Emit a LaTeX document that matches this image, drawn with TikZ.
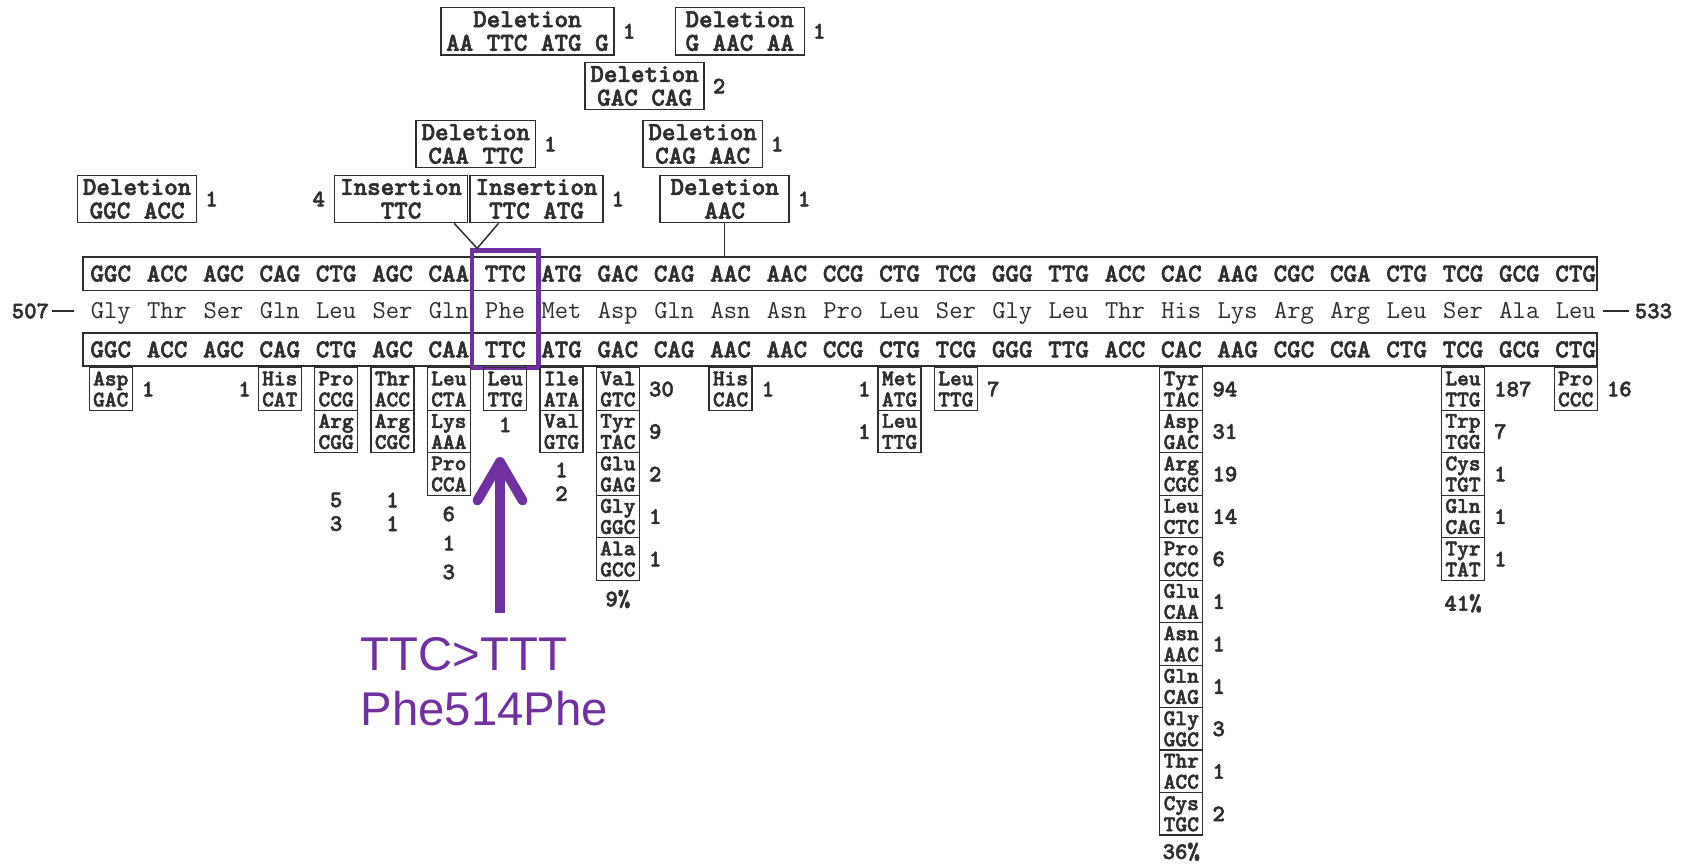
\documentclass[tikz,border=0pt]{standalone}
\usepackage{fontspec}
\usetikzlibrary{arrows.meta,positioning}
\newfontfamily\calloutfont{Liberation Sans}
\newfontfamily\seqmono[FakeBold=2.2]{lmmonolt10-bold.otf}
\definecolor{grape}{RGB}{112,48,160}
\colorlet{ink}{black!82}
\newcommand{\codonfont}{\seqmono\fontsize{12}{12}\selectfont}
\newcommand{\aminofont}{\ttfamily\fontsize{12}{12}\selectfont}
\newcommand{\labelfont}{\seqmono\fontsize{12}{11}\selectfont}
\newcommand{\subfont}{\seqmono\fontsize{10.4}{9.8}\selectfont}
\newcommand{\tallyfont}{\seqmono\fontsize{11}{11}\selectfont}

\tikzset{
  codon/.style={font=\codonfont,text=ink,inner sep=0pt},
  amino/.style={font=\aminofont,text=ink,inner sep=0pt,anchor=base},
  seqbox/.style={draw=ink,line width=0.7pt,minimum width=704pt,minimum height=15.5pt,inner sep=0pt},
  mutbox/.style={draw=ink,line width=0.7pt,align=center,font=\labelfont,text=ink,
    inner xsep=2.5pt,inner ysep=0.5pt,minimum height=22pt},
  subbox/.style={draw=ink,line width=0.6pt,align=center,font=\subfont,text=ink,
    inner xsep=1pt,inner ysep=0pt,minimum width=20pt,minimum height=19.75pt,anchor=north},
  tally/.style={font=\tallyfont,text=ink,inner sep=0pt},
  link/.style={draw=ink,line width=0.7pt},
  hilite/.style={draw=grape,line width=2pt,minimum width=31pt,minimum height=54.5pt,inner sep=0pt},
  callout/.style={font=\calloutfont\fontsize{22}{26}\selectfont,text=grape,align=left,inner sep=0pt},
  mutarrow/.style={draw=grape,line width=4.5pt,-{Straight Barb[length=18pt,width=21pt,round]}}
}

\begin{document}
\begin{tikzpicture}[x=0.5pt,y=-0.5pt]
\useasboundingbox (0,0) rectangle (1568,804);

\node[seqbox] (top) at (781,254.5) {};
\node[seqbox] (bot) at (781,325) {};
\foreach \cd [count=\i from 0] in {GGC,ACC,AGC,CAG,CTG,AGC,CAA,TTC,ATG,GAC,CAG,AAC,AAC,CCG,
    CTG,TCG,GGG,TTG,ACC,CAC,AAG,CGC,CGA,CTG,TCG,GCG,CTG}{
  \pgfmathsetmacro{\x}{103+52.4*\i}
  \node[codon] (t\i) at (\x,254.5) {\cd};
  \node[codon] (b\i) at (\x,325) {\cd};
}
\foreach \aa [count=\i from 0] in {Gly,Thr,Ser,Gln,Leu,Ser,Gln,Phe,Met,Asp,Gln,Asn,Asn,Pro,
    Leu,Ser,Gly,Leu,Thr,His,Lys,Arg,Arg,Leu,Ser,Ala,Leu}{
  \pgfmathsetmacro{\x}{103+52.4*\i}
  \node[amino] (a\i) at (\x,296) {\aa};
}
\node[tally,anchor=base east] (n507) at (46,296) {507};
\node[tally,anchor=base west] (n533) at (1520,296) {533};
\draw[link] ([xshift=1pt]n507.east) -- ([xshift=-7.5pt]a0.west |- n507.east);
\draw[link,line width=1pt] ([xshift=3pt]a26.east |- n533.west) -- ([xshift=-2.5pt]n533.west);

\node[mutbox] (d1) at (490.5,29) {Deletion\\AA TTC ATG G};
\node[mutbox,minimum width=60pt] (d2) at (688,29) {Deletion\\G AAC AA};
\node[mutbox] (d3) at (599.5,80) {Deletion\\GAC CAG};
\node[mutbox] (d4) at (442.5,134) {Deletion\\CAA TTC};
\node[mutbox] (d5) at (653.5,134) {Deletion\\CAG AAC};
\node[mutbox] (d6) at (127.5,185) {Deletion\\GGC ACC};
\node[mutbox] (i1) at (373,185) {Insertion\\TTC};
\node[mutbox] (i2) at (499,185) {Insertion\\TTC ATG};
\node[mutbox,minimum width=60pt] (d7) at (674,185) {Deletion\\AAC};
\foreach \nd/\n in {d1/1,d2/1,d3/2,d4/1,d5/1,d6/1,i2/1,d7/1}
  \node[tally,right=3.5pt of \nd] (c\nd) {\n};
\node[tally,left=4pt of i1] (ci1) {4};

\node[hilite] (hl) at ({103+52.4*7},287.5) {};
\coordinate (ins) at ([xshift=3.5pt]hl.north west);
\draw[link] ([xshift=-6.5pt]i1.south east) -- (ins) -- ([xshift=13.5pt]i2.south west);
\draw[link] (d7.south) -- (d7.south |- top.north);

\foreach \col/\subs in {0/{Asp/GAC},3/{His/CAT},4/{Pro/CCG,Arg/CGG},5/{Thr/ACC,Arg/CGC},
    6/{Leu/CTA,Lys/AAA,Pro/CCA},7/{Leu/TTG},8/{Ile/ATA,Val/GTG},
    9/{Val/GTC,Tyr/TAC,Glu/GAG,Gly/GGC,Ala/GCC},11/{His/CAC},14/{Met/ATG,Leu/TTG},
    15/{Leu/TTG},19/{Tyr/TAC,Asp/GAC,Arg/CGC,Leu/CTC,Pro/CCC,Glu/CAA,Asn/AAC,Gln/CAG,
    Gly/GGC,Thr/ACC,Cys/TGC},24/{Leu/TTG,Trp/TGG,Cys/TGT,Gln/CAG,Tyr/TAT},26/{Pro/CCC}}{
  \pgfmathsetmacro{\x}{103+52.4*\col}
  \foreach \aa/\cd [count=\k] in \subs{
    \pgfmathsetmacro{\y}{341.5+39.5*(\k-1)}
    \node[subbox] (s\col-\k) at (\x,\y) {\aa\\\cd};
  }
}
\foreach \col/\k/\n in {0/1/1,9/1/30,9/2/9,9/3/2,9/4/1,9/5/1,11/1/1,15/1/7,
    19/1/94,19/2/31,19/3/19,19/4/14,19/5/6,19/6/1,19/7/1,19/8/1,19/9/3,19/10/1,19/11/2,
    24/1/187,24/2/7,24/3/1,24/4/1,24/5/1,26/1/16}
  \node[tally,right=4pt of s\col-\k] (r\col-\k) {\n};
\foreach \col/\k/\n in {3/1/1,14/1/1,14/2/1}
  \node[tally,left=3pt of s\col-\k] (l\col-\k) {\n};
\foreach \col/\k/\y/\n in {4/1/465/5,4/2/487/3,5/1/465/1,5/2/487/1,6/1/478/6,6/2/505/1,
    6/3/532/3,7/1/395/1,8/1/437/1,8/2/459/2}
  \node[tally] (u\col-\k) at ({103+52.4*\col},\y) {\n};
\node[tally,below=4pt of s9-5] (p9) {9\%};
\node[tally,below=3pt of s19-11] (p19) {36\%};
\node[tally,below=6pt of s24-5] (p24) {41\%};

\node[callout,anchor=north west] (call) at (335,592) {TTC>TTT\\Phe514Phe};
\coordinate (tail) at (465,570);
\coordinate (tip) at (465,425);
\draw[mutarrow] (tail) -- (tip);
\end{tikzpicture}
\end{document}
